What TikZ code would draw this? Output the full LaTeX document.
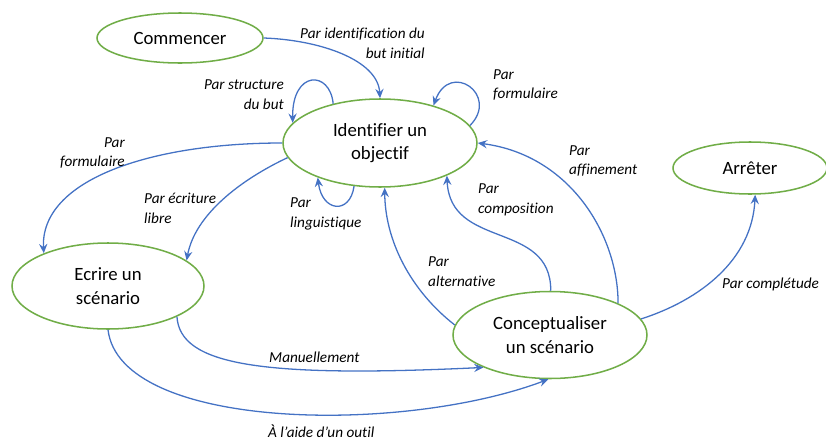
\documentclass[tikz,border=0pt]{standalone}
\usepackage{fontspec}
\setmainfont{Carlito}[Ligatures={NoCommon}]
\usetikzlibrary{shapes.geometric,arrows.meta}
\definecolor{goalgreen}{HTML}{70AD47}
\definecolor{linkblue}{HTML}{4472C4}
\begin{document}
\begin{tikzpicture}[
        x=0.03cm, y=-0.03cm,
        goal/.style={ellipse, draw=goalgreen, line width=1.3pt, fill=white, inner sep=0pt,
            align=center, font=\fontsize{16}{20}\selectfont},
        link/.style={draw=linkblue, line width=1.1pt, -{Stealth[length=8pt,width=7pt,inset=2.8pt]}},
        how/.style={inner sep=0pt, font=\fontsize{13}{17}\selectfont\itshape},
    ]
    \useasboundingbox (0,0) rectangle (826,441);

    \node[goal, minimum width=4.98cm, minimum height=1.5cm] (start) at (180,38) {Commencer};
    \node[goal, minimum width=5.82cm, minimum height=2.64cm] (ident) at (380,143) {Identifier un\\objectif};
    \node[goal, minimum width=4.62cm, minimum height=1.56cm] (stop) at (750,168) {Arrêter};
    \node[goal, minimum width=5.76cm, minimum height=2.58cm] (ecrire) at (108,286) {Ecrire un\\scénario};
    \node[goal, minimum width=5.82cm, minimum height=2.61cm] (concept) at (550,335) {Conceptualiser\\un scénario};

    \draw[link] (start.east) .. controls (320,40) and (378,60) .. (ident.90);
    \draw[link] (ident.140) .. controls (330,70) and (292,70) .. (ident.167);
    \draw[link] (ident.11) .. controls (500,95) and (450,60) .. (ident.35);
    \draw[link] (ident.180) .. controls (150,143) and (40,180) .. (ecrire.153);
    \draw[link] (ident.189) .. controls (240,180) and (195,215) .. (ecrire.18);
    \draw[link] (ident.239) .. controls (350,215) and (322,212) .. (ident.209);
    \draw[link] (concept.174) .. controls (410,290) and (385,240) .. (ident.276);
    \draw[link] (concept.89) .. controls (551,220) and (450,250) .. (ident.334);
    \draw[link] (concept.25) .. controls (618,235) and (570,155) .. (ident.0);
    \draw[link] (concept.10) .. controls (700,300) and (752,260) .. (stop.281);
    \draw[link] (ecrire.336) .. controls (180,365) and (260,378) .. (concept.206);
    \draw[link] (ecrire.270) .. controls (120,430) and (400,435) .. (concept.268);

    \node[how, align=right, anchor=east] (l1) at (425,43) {Par identification du\\but initial};
    \node[how, align=right, anchor=east] (l2) at (284,95) {Par structure\\du but};
    \node[how, align=left, anchor=west] (l3) at (493,85) {Par\\formulaire};
    \node[how, align=right, anchor=east] (l4) at (125,153) {Par\\formulaire};
    \node[how, align=left, anchor=west] (l5) at (144,208) {Par écriture\\libre};
    \node[how, align=left, anchor=west] (l6) at (290,214) {Par\\linguistique};
    \node[how, align=left, anchor=west] (l7) at (428,272) {Par\\alternative};
    \node[how, align=left, anchor=west] (l8) at (478,200) {Par\\composition};
    \node[how, align=left, anchor=west] (l9) at (569,161) {Par\\affinement};
    \node[how, anchor=west] (l10) at (722,284) {Par complétude};
    \node[how, anchor=west] (l11) at (269,357) {Manuellement};
    \node[how, anchor=west] (l12) at (268,431) {À l’aide d’un outil};
\end{tikzpicture}
\end{document}
